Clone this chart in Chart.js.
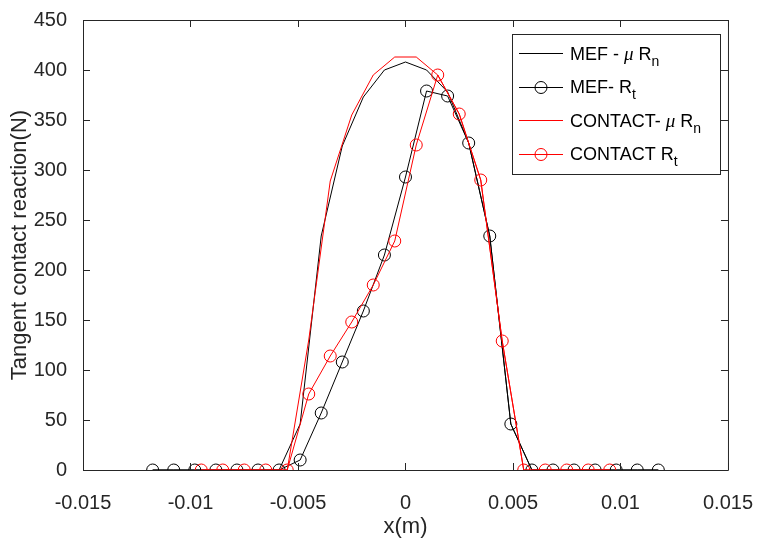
<!DOCTYPE html>
<html>
<head>
<meta charset="utf-8">
<script src="https://cdn.jsdelivr.net/npm/chart.js@4.4.0/dist/chart.umd.min.js"></script>
<style>
  html, body { margin: 0; padding: 0; background: #fff; }
  canvas { display: block; }
</style>
</head>
<body>
<canvas id="chart_1" width="766" height="538"></canvas>
<script>
// MEF nodes (black)
const mefX = [-0.01176, -0.01078, -0.0098, -0.00882, -0.00784, -0.00686, -0.00588, -0.0049, -0.00392,
  -0.00294, -0.00196, -0.00098, 0, 0.00098, 0.00196, 0.00294, 0.00392, 0.0049, 0.00588, 0.00686,
  0.00784, 0.00882, 0.0098, 0.01078, 0.01176]
const mefMuRn = [0, 0, 0, 0, 0, 0, 0, 46, 234, 324, 373, 400, 408, 400, 378, 327, 234, 46, 0, 0, 0, 0, 0, 0, 0]
const mefRt = [0, 0, 0, 0, 0, 0, 0, 10, 57, 108, 159, 215, 293, 379, 374, 327, 234, 46, 0, 0, 0, 0, 0, 0, 0]

// CONTACT nodes (red)
const contactX = [-0.0095, -0.0085, -0.0075, -0.0065, -0.0055, -0.0045, -0.0035, -0.0025, -0.0015, -0.0005,
  0.0005, 0.0015, 0.0025, 0.0035, 0.0045, 0.0055, 0.0065, 0.0075, 0.0085, 0.0095]
const contactMuRn = [0, 0, 0, 0, 0, 130, 289, 355, 395, 413, 413, 395, 356, 290, 129, 0, 0, 0, 0, 0]
const contactRt = [0, 0, 0, 0, 0, 76, 114, 148, 185, 229, 325, 395, 356, 290, 129, 0, 0, 0, 0, 0]

const xTicks = [-0.015, -0.01, -0.005, 0, 0.005, 0.01, 0.015]
const xTickLabels = ['-0.015', '-0.01', '-0.005', '0', '0.005', '0.01', '0.015']
const yTicks = [0, 50, 100, 150, 200, 250, 300, 350, 400, 450]
const yTickLabels = ['0', '50', '100', '150', '200', '250', '300', '350', '400', '450']

const legendItems = [
  { pre: 'MEF - ', mu: true, sub: 'n' },
  { pre: 'MEF- ', mu: false, sub: 't' },
  { pre: 'CONTACT- ', mu: true, sub: 'n' },
  { pre: 'CONTACT ', mu: false, sub: 't' }
]

const axisColor = '#262626'
const sans = "'Liberation Sans', Arial, Helvetica, sans-serif"

const toPoints = (xs, ys) => xs.map((x, i) => ({ x: x, y: ys[i] }))

// box round the plot with inward ticks on all four sides
const boxPlugin = {
  id: 'box',
  afterDatasetsDraw(chart) {
    const { ctx, chartArea: a, scales: { x, y } } = chart
    const len = 7
    ctx.save()
    ctx.strokeStyle = axisColor
    ctx.lineWidth = 1
    ctx.beginPath()
    ctx.rect(a.left + 0.5, a.top + 0.5, a.right - a.left, a.bottom - a.top)
    xTicks.forEach(v => {
      const px = Math.round(x.getPixelForValue(v)) + 0.5
      ctx.moveTo(px, a.bottom); ctx.lineTo(px, a.bottom - len)
      ctx.moveTo(px, a.top); ctx.lineTo(px, a.top + len)
    })
    yTicks.forEach(v => {
      const py = Math.round(y.getPixelForValue(v)) + 0.5
      ctx.moveTo(a.left, py); ctx.lineTo(a.left + len, py)
      ctx.moveTo(a.right, py); ctx.lineTo(a.right - len, py)
    })
    ctx.stroke()
    ctx.restore()
  }
}

// matlab style legend, with μ and subscripts
const legendPlugin = {
  id: 'matlabLegend',
  afterDraw(chart) {
    const ctx = chart.ctx
    const box = { left: 512.5, top: 34.5, right: 720.5, bottom: 174.5 }
    const rows = [53, 86.5, 120, 153.5]
    ctx.save()
    ctx.fillStyle = '#fff'
    ctx.fillRect(box.left, box.top, box.right - box.left, box.bottom - box.top)
    ctx.strokeStyle = axisColor
    ctx.lineWidth = 1
    ctx.strokeRect(box.left, box.top, box.right - box.left, box.bottom - box.top)
    chart.data.datasets.forEach((ds, i) => {
      const yRow = Math.round(rows[i]) + 0.5
      ctx.strokeStyle = ds.borderColor
      ctx.lineWidth = 1
      ctx.beginPath()
      ctx.moveTo(519, yRow); ctx.lineTo(563, yRow)
      ctx.stroke()
      if (ds.pointRadius > 0) {
        ctx.beginPath()
        ctx.arc(541, yRow, ds.pointRadius, 0, Math.PI * 2)
        ctx.stroke()
      }
      const it = legendItems[i]
      const base = rows[i] + 6.5
      let tx = 570
      ctx.fillStyle = '#000'
      ctx.textBaseline = 'alphabetic'
      ctx.textAlign = 'left'
      ctx.font = '18px ' + sans
      ctx.fillText(it.pre, tx, base)
      tx += ctx.measureText(it.pre).width
      if (it.mu) {
        ctx.font = "italic 19px 'Liberation Serif', 'Times New Roman', serif"
        ctx.fillText('μ', tx, base)
        tx += ctx.measureText('μ').width
        ctx.font = '18px ' + sans
        ctx.fillText(' ', tx, base)
        tx += ctx.measureText(' ').width
      }
      ctx.font = '18px ' + sans
      ctx.fillText('R', tx, base)
      tx += ctx.measureText('R').width
      ctx.font = '14px ' + sans
      ctx.fillText(it.sub, tx, base + 6)
    })
    ctx.restore()
  }
}

new Chart('chart_1', {
  type: 'line',
  data: {
    datasets: [{
      label: 'MEF - μ Rn',
      data: toPoints(mefX, mefMuRn),
      borderColor: '#000000',
      borderWidth: 1,
      pointRadius: 0,
      tension: 0,
      order: 4
    }, {
      label: 'MEF- Rt',
      data: toPoints(mefX, mefRt),
      borderColor: '#000000',
      borderWidth: 1,
      pointRadius: 6,
      pointBorderWidth: 1,
      pointBorderColor: '#000000',
      pointBackgroundColor: 'rgba(0,0,0,0)',
      tension: 0,
      order: 3
    }, {
      label: 'CONTACT- μ Rn',
      data: toPoints(contactX, contactMuRn),
      borderColor: '#ff0000',
      borderWidth: 1,
      pointRadius: 0,
      tension: 0,
      order: 2
    }, {
      label: 'CONTACT Rt',
      data: toPoints(contactX, contactRt),
      borderColor: '#ff0000',
      borderWidth: 1,
      pointRadius: 6,
      pointBorderWidth: 1,
      pointBorderColor: '#ff0000',
      pointBackgroundColor: 'rgba(0,0,0,0)',
      tension: 0,
      order: 1
    }]
  },
  options: {
    responsive: false,
    animation: false,
    devicePixelRatio: 1,
    layout: { padding: { left: 0, top: 14, right: 27, bottom: 0 } },
    plugins: {
      legend: { display: false },
      tooltip: { enabled: false }
    },
    scales: {
      x: {
        type: 'linear',
        min: -0.015,
        max: 0.015,
        afterBuildTicks: s => { s.ticks = xTicks.map(v => ({ value: v })) },
        afterFit: s => { s.height = 68 },
        grid: { display: false },
        border: { display: false },
        ticks: {
          autoSkip: false,
          maxRotation: 0,
          padding: 13,
          color: axisColor,
          font: { family: sans, size: 20, lineHeight: 1.2 },
          callback: (v, i) => xTickLabels[i]
        },
        title: {
          display: true,
          text: 'x(m)',
          color: axisColor,
          padding: { top: 0, bottom: 0 },
          font: { family: sans, size: 22, lineHeight: 1 }
        }
      },
      y: {
        type: 'linear',
        min: 0,
        max: 450,
        afterBuildTicks: s => { s.ticks = yTicks.map(v => ({ value: v })) },
        afterFit: s => { s.width = 83 },
        grid: { display: false },
        border: { display: false },
        ticks: {
          padding: 8,
          color: axisColor,
          font: { family: sans, size: 20, lineHeight: 1.2 },
          callback: (v, i) => yTickLabels[i]
        },
        title: {
          display: true,
          text: 'Tangent contact reaction(N)',
          color: axisColor,
          padding: { top: 9, bottom: 0 },
          font: { family: sans, size: 22, lineHeight: 1 }
        }
      }
    }
  },
  plugins: [boxPlugin, legendPlugin]
})
</script>
</body>
</html>
